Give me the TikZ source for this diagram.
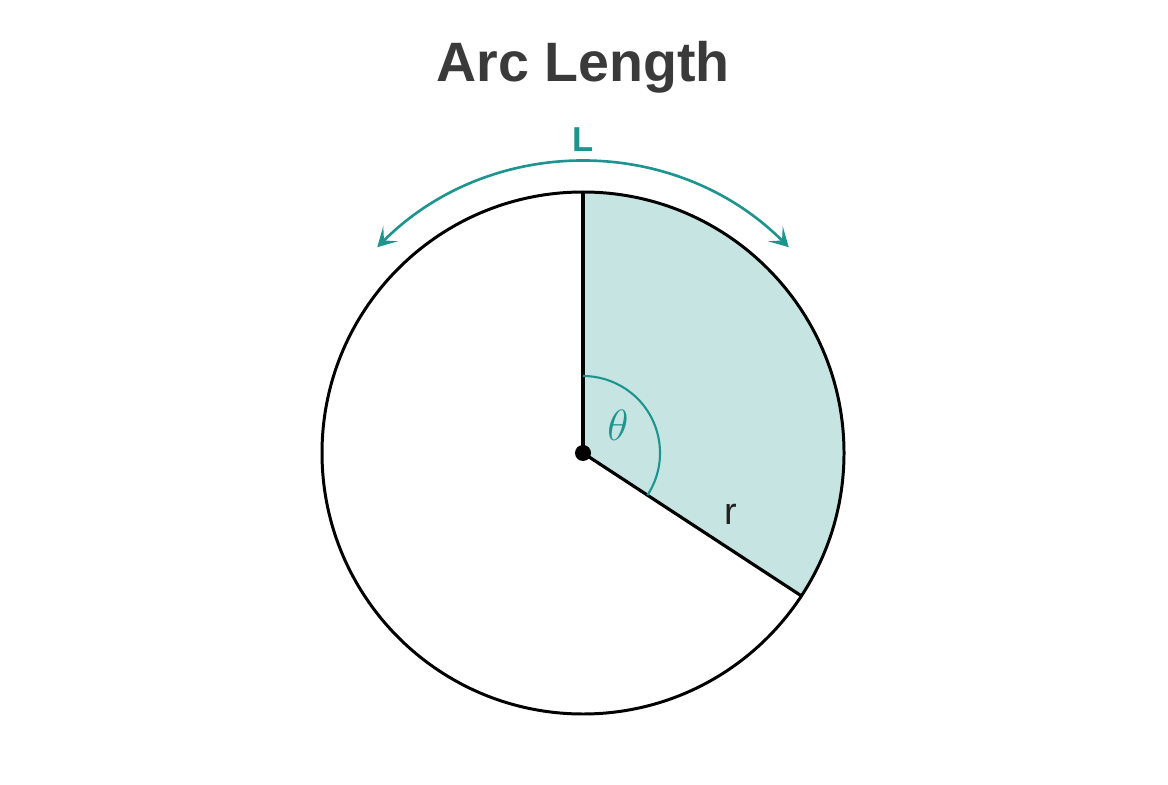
\documentclass[tikz,border=0pt]{standalone}
\usepackage{fontspec}
\newfontfamily\labelfont{Liberation Sans}
\usetikzlibrary{arrows.meta,calc}
\definecolor{arcteal}{HTML}{1E948E}
\definecolor{sectorteal}{HTML}{C6E4E2}
\definecolor{titlegray}{HTML}{3A3A3A}
\tikzset{
  rim/.style={line width=1.7pt, black},
  radius line/.style={line width=1.8pt, black},
  angle mark/.style={line width=1.2pt, arcteal},
  length arrow/.style={line width=1.5pt, arcteal,
    {Stealth[length=3.8mm,width=4.2mm,inset=1.9mm]}-{Stealth[length=3.8mm,width=4.2mm,inset=1.9mm]}},
}
\begin{document}
\begin{tikzpicture}[x=0.02cm,y=0.02cm]
    \useasboundingbox (0,0) rectangle (1168,784);
    \coordinate (O) at (583,331);
    \coordinate (T) at ($(O)+(90:261)$);
    \coordinate (R) at ($(O)+(-33.2:261)$);
    \coordinate (LA) at ($(O)+(135:291)$);
    % shaded sector
    \fill[sectorteal] (O) -- ++(-33.2:261) arc[start angle=-33.2, end angle=90, radius=261] -- cycle;
    \draw[rim] (O) circle[radius=261];
    \draw[radius line] (O) -- (T);
    \draw[radius line] (O) -- (R);
    \draw[angle mark] (O) ++(-33.2:77) arc[start angle=-33.2, end angle=90, radius=77];
    \draw[length arrow] (LA) arc[start angle=135, end angle=45, radius=291];
    \fill (O) circle[radius=8];
    \node[anchor=base, text=titlegray, font=\labelfont\bfseries\fontsize{31.6}{38}\selectfont] (title) at (583,702) {Arc Length};
    \node[anchor=base, text=arcteal, font=\labelfont\bfseries\fontsize{19.7}{24}\selectfont] (Llabel) at (583,632) {L};
    \node[text=arcteal, font=\fontsize{25}{30}\selectfont] (theta) at (618,359) {$\theta$};
    \node[anchor=base, text=black!87, font=\labelfont\fontsize{21.5}{25}\selectfont] (rlabel) at (731,259) {r};
\end{tikzpicture}
\end{document}
